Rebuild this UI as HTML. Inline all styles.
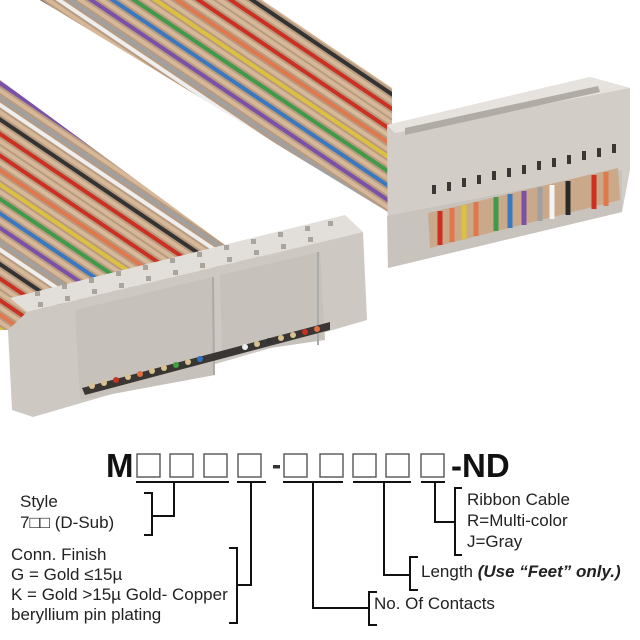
<!DOCTYPE html>
<html><head><meta charset="utf-8"><style>
html,body{margin:0;padding:0;background:#fff}
#w{position:relative;width:640px;height:640px;overflow:hidden;font-family:"Liberation Sans",sans-serif;color:#222}
.t{position:absolute;font-size:17px;white-space:nowrap;line-height:1}
</style></head><body><div id="w">
<svg width="640" height="640" style="position:absolute;left:0;top:0">
<defs>
<pattern id="s1" width="120" height="120" patternUnits="userSpaceOnUse" patternTransform="rotate(34)">
<rect width="120" height="120" fill="#b89a80"/>
<g stroke-width="4">
<line x1="0" y1="3" x2="120" y2="3" stroke="#d6b899"/>
<line x1="0" y1="9" x2="120" y2="9" stroke="#cc3020"/>
<line x1="0" y1="15" x2="120" y2="15" stroke="#d9bb9c"/>
<line x1="0" y1="21" x2="120" y2="21" stroke="#e0784e"/>
<line x1="0" y1="27" x2="120" y2="27" stroke="#d6b899"/>
<line x1="0" y1="33" x2="120" y2="33" stroke="#dcc040"/>
<line x1="0" y1="39" x2="120" y2="39" stroke="#d6b899"/>
<line x1="0" y1="45" x2="120" y2="45" stroke="#3f9a4a"/>
<line x1="0" y1="51" x2="120" y2="51" stroke="#d6b899"/>
<line x1="0" y1="57" x2="120" y2="57" stroke="#3a78c0"/>
<line x1="0" y1="63" x2="120" y2="63" stroke="#d6b899"/>
<line x1="0" y1="69" x2="120" y2="69" stroke="#7a50a8"/>
<line x1="0" y1="75" x2="120" y2="75" stroke="#d6b899"/>
<line x1="0" y1="81" x2="120" y2="81" stroke="#a0a0a0"/>
<line x1="0" y1="87" x2="120" y2="87" stroke="#eeeeee"/>
<line x1="0" y1="93" x2="120" y2="93" stroke="#d6b899"/>
<line x1="0" y1="99" x2="120" y2="99" stroke="#333"/>
<line x1="0" y1="105" x2="120" y2="105" stroke="#d6b899"/>
<line x1="0" y1="111" x2="120" y2="111" stroke="#cc3020"/>
<line x1="0" y1="117" x2="120" y2="117" stroke="#d6b899"/>
</g></pattern>
</defs>
<polygon points="40,0 262,0 392,88 392,215 388,212" fill="url(#s1)"/>
<polygon points="0,80 225,245 300,270 10,330 0,330" fill="url(#s1)"/>
<polygon points="387,125 590,77 630,88 630,170 622,212 388,268" fill="#d2cdc7"/>
<polygon points="387,125 590,77 630,88 395,133" fill="#e6e3de"/>
<polygon points="405,128 598,86 600,92 405,135" fill="#b0aba5"/>
<polygon points="387,216 622,170 622,212 388,268" fill="#c8c3bd"/>
<polygon points="428,213 618,168 620,200 430,248" fill="#c9a98a"/>
<g stroke-width="5">
<line x1="440" y1="211" x2="440" y2="245" stroke="#cc3020"/>
<line x1="452" y1="208" x2="452" y2="242" stroke="#e0784e"/>
<line x1="464" y1="205" x2="464" y2="239" stroke="#dcc040"/>
<line x1="476" y1="202" x2="476" y2="236" stroke="#e0784e"/>
<line x1="496" y1="197" x2="496" y2="231" stroke="#3f9a4a"/>
<line x1="510" y1="194" x2="510" y2="228" stroke="#3a78c0"/>
<line x1="524" y1="191" x2="524" y2="225" stroke="#7a50a8"/>
<line x1="540" y1="187" x2="540" y2="221" stroke="#a0a0a0"/>
<line x1="552" y1="185" x2="552" y2="219" stroke="#f4f4f4"/>
<line x1="568" y1="181" x2="568" y2="215" stroke="#2a2a2a"/>
<line x1="594" y1="175" x2="594" y2="209" stroke="#cc3020"/>
<line x1="606" y1="172" x2="606" y2="206" stroke="#e0784e"/>
</g>
<g fill="#3a3633">
<rect x="432" y="185" width="4" height="9"/><rect x="447" y="182" width="4" height="9"/><rect x="462" y="178" width="4" height="9"/><rect x="477" y="175" width="4" height="9"/><rect x="492" y="171" width="4" height="9"/><rect x="507" y="168" width="4" height="9"/><rect x="522" y="165" width="4" height="9"/><rect x="537" y="161" width="4" height="9"/><rect x="552" y="158" width="4" height="9"/><rect x="567" y="155" width="4" height="9"/><rect x="582" y="151" width="4" height="9"/><rect x="597" y="148" width="4" height="9"/><rect x="612" y="144" width="4" height="9"/>
</g>
<polygon points="10,298 345,215 363,232 27,312" fill="#e2dfda"/>
<polygon points="27,312 363,232 367,320 33,417 12,410 8,330" fill="#cdc8c2"/>
<polygon points="75,310 213,277 215,375 80,400" fill="#c6c1bb"/>
<polygon points="220,275 320,252 325,340 222,355" fill="#c6c1bb"/>
<line x1="213" y1="277" x2="214" y2="375" stroke="#aaa" stroke-width="2"/>
<line x1="318" y1="252" x2="318" y2="345" stroke="#aaa" stroke-width="2"/>
<polygon points="82,388 330,322 330,330 85,395" fill="#3a3633"/>
<g fill="#d8c090">
<circle cx="92" cy="386" r="3"/><circle cx="104" cy="383" r="3"/><circle cx="116" cy="380" r="3" fill="#c83020"/><circle cx="128" cy="377" r="3"/><circle cx="140" cy="374" r="3" fill="#e07040"/><circle cx="152" cy="371" r="3"/><circle cx="164" cy="368" r="3"/><circle cx="176" cy="365" r="3" fill="#40a040"/><circle cx="188" cy="362" r="3"/><circle cx="200" cy="359" r="3" fill="#3070c0"/>
<circle cx="245" cy="347" r="3" fill="#eee"/><circle cx="257" cy="344" r="3"/><circle cx="269" cy="341" r="3" fill="#333"/><circle cx="281" cy="338" r="3"/><circle cx="293" cy="335" r="3"/><circle cx="305" cy="332" r="3" fill="#c83020"/><circle cx="317" cy="329" r="3" fill="#e07040"/>
</g>
<g fill="#aaa49d">
<rect x="38" y="302" width="5" height="5"/><rect x="65" y="296" width="5" height="5"/><rect x="92" y="289" width="5" height="5"/><rect x="119" y="283" width="5" height="5"/><rect x="146" y="276" width="5" height="5"/><rect x="173" y="270" width="5" height="5"/><rect x="200" y="263" width="5" height="5"/><rect x="227" y="257" width="5" height="5"/><rect x="254" y="250" width="5" height="5"/><rect x="281" y="244" width="5" height="5"/><rect x="308" y="237" width="5" height="5"/>
<rect x="35" y="291" width="5" height="5"/><rect x="62" y="284" width="5" height="5"/><rect x="89" y="278" width="5" height="5"/><rect x="116" y="271" width="5" height="5"/><rect x="143" y="265" width="5" height="5"/><rect x="170" y="258" width="5" height="5"/><rect x="197" y="252" width="5" height="5"/><rect x="224" y="245" width="5" height="5"/><rect x="251" y="239" width="5" height="5"/><rect x="278" y="232" width="5" height="5"/><rect x="305" y="226" width="5" height="5"/><rect x="328" y="221" width="5" height="5"/>
</g>
<g stroke="#555" stroke-width="1.4" fill="none">
<rect x="137" y="454" width="23" height="23"/><rect x="170" y="454" width="23" height="23"/><rect x="204" y="454" width="23" height="23"/><rect x="238" y="454" width="23" height="23"/>
<rect x="284" y="454" width="23" height="23"/><rect x="320" y="454" width="23" height="23"/><rect x="353" y="454" width="23" height="23"/><rect x="386" y="454" width="23" height="23"/><rect x="421" y="454" width="23" height="23"/>
</g>
<text x="106" y="477" font-family="Liberation Sans, sans-serif" font-weight="bold" font-size="33" fill="#111">M</text>
<rect x="273" y="465" width="7" height="3.5" fill="#333"/>
<text x="451" y="477" font-family="Liberation Sans, sans-serif" font-weight="bold" font-size="33" fill="#111">-ND</text>
<g stroke="#111" stroke-width="2" fill="none">
<line x1="136" y1="482" x2="229" y2="482"/><line x1="237" y1="482" x2="266" y2="482"/><line x1="283" y1="482" x2="343" y2="482"/><line x1="353" y1="482" x2="411" y2="482"/><line x1="421" y1="482" x2="445" y2="482"/>
<polyline points="174,482 174,516 152,516"/><polyline points="144,493 152,493 152,535 144,535"/>
<polyline points="251,482 251,585 237,585"/><polyline points="229,548 237,548 237,623 229,623"/>
<polyline points="313,482 313,608 369,608"/><polyline points="377,592 369,592 369,625 377,625"/>
<polyline points="384,482 384,575 410,575"/><polyline points="418,557 410,557 410,590 418,590"/>
<polyline points="435,482 435,522 455,522"/><polyline points="462,488 455,488 455,555 462,555"/>
</g>
</svg>
<div class="t" style="left:20px;top:493px">Style</div>
<div class="t" style="left:20px;top:514px">7□□ (D-Sub)</div>
<div class="t" style="left:11px;top:546px">Conn. Finish</div>
<div class="t" style="left:11px;top:566px">G = Gold ≤15µ</div>
<div class="t" style="left:11px;top:586px">K = Gold &gt;15µ Gold- Copper</div>
<div class="t" style="left:11px;top:606px">beryllium pin plating</div>
<div class="t" style="left:467px;top:491px">Ribbon Cable</div>
<div class="t" style="left:467px;top:512px">R=Multi-color</div>
<div class="t" style="left:467px;top:533px">J=Gray</div>
<div class="t" style="left:421px;top:563px">Length <b><i>(Use “Feet” only.)</i></b></div>
<div class="t" style="left:374px;top:595px">No. Of Contacts</div>
</div></body></html>
